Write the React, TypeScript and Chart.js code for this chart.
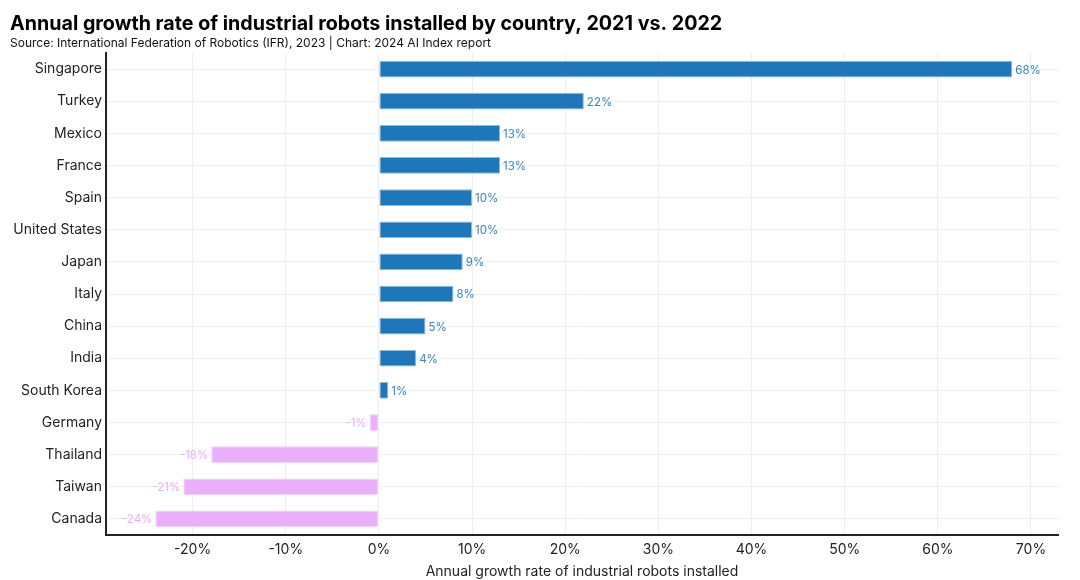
import React, { useEffect, useRef } from "react";
import { Chart, registerables } from "chart.js";

Chart.register(...registerables);

const titleText = "Annual growth rate of industrial robots installed by country, 2021 vs. 2022";
const subtitleText = "Source: International Federation of Robotics (IFR), 2023 | Chart: 2024 AI Index report";
const axisTitle = "Annual growth rate of industrial robots installed";

const countries = [
  "Singapore", "Turkey", "Mexico", "France", "Spain", "United States", "Japan",
  "Italy", "China", "India", "South Korea", "Germany", "Thailand", "Taiwan", "Canada",
];
const growth = [68, 22, 13, 13, 10, 10, 9, 8, 5, 4, 1, -1, -18, -21, -24];
const tickValues = [-20, -10, 0, 10, 20, 30, 40, 50, 60, 70];

const BLUE = "#1f77b9";
const BLUE_EDGE = "#8fbbe0";
const BLUE_TEXT = "#3a86c4";
const PINK = "#eab0fb";
const PINK_EDGE = "#f3d3fc";
const PINK_TEXT = "#e7b1f8";

const FONT = "Inter, 'Noto Sans', sans-serif";

export default function App() {
  const ref = useRef<HTMLCanvasElement | null>(null);

  useEffect(() => {
    document.body.style.margin = "0";
    const canvas = ref.current;
    if (!canvas) return;

    const headerPlugin = {
      id: "header",
      afterDraw(chart: any) {
        const ctx = chart.ctx;
        ctx.save();
        ctx.fillStyle = "#000";
        ctx.textBaseline = "alphabetic";
        ctx.textAlign = "left";
        ctx.font = `bold 19.7px ${FONT}`;
        ctx.fillText(titleText, 10, 30);
        ctx.font = `12px ${FONT}`;
        ctx.fillStyle = "#111";
        ctx.fillText(subtitleText, 10, 47);
        ctx.restore();
      },
    };

    const valueLabels = {
      id: "valueLabels",
      afterDatasetsDraw(chart: any) {
        const ctx = chart.ctx;
        const meta = chart.getDatasetMeta(0);
        ctx.save();
        ctx.font = `11.5px ${FONT}`;
        ctx.textBaseline = "middle";
        meta.data.forEach((bar: any, i: number) => {
          const v = growth[i];
          const label = `${v}%`;
          if (v >= 0) {
            ctx.fillStyle = BLUE_TEXT;
            ctx.textAlign = "left";
            ctx.fillText(label, bar.x + 3, bar.y + 1);
          } else {
            ctx.fillStyle = PINK_TEXT;
            ctx.textAlign = "right";
            ctx.fillText(label, bar.x - 3, bar.y + 1);
          }
        });
        ctx.restore();
      },
    };

    const chart = new Chart(canvas, {
      type: "bar",
      data: {
        labels: countries,
        datasets: [
          {
            data: growth,
            backgroundColor: growth.map((v) => (v >= 0 ? BLUE : PINK)),
            borderColor: growth.map((v) => (v >= 0 ? BLUE_EDGE : PINK_EDGE)),
            borderWidth: 1,
            borderSkipped: false,
            barPercentage: 0.52,
            categoryPercentage: 1,
          },
        ],
      },
      options: {
        indexAxis: "y",
        animation: false,
        responsive: false,
        maintainAspectRatio: false,
        layout: { padding: { top: 53, right: 22, left: 0, bottom: 0 } },
        plugins: {
          legend: { display: false },
          tooltip: { enabled: false },
        },
        scales: {
          x: {
            min: -29.3,
            max: 72.9,
            afterBuildTicks(scale: any) {
              scale.ticks = tickValues.map((v) => ({ value: v }));
            },
            afterFit(scale: any) {
              scale.height = 45;
            },
            grid: { color: "#eeeeee", lineWidth: 1, drawTicks: false },
            border: { display: true, color: "#222", width: 2 },
            ticks: {
              padding: 6,
              color: "#222",
              font: { family: FONT, size: 14 },
              callback: (v: any) => `${v}%`,
            },
            title: {
              display: true,
              text: axisTitle,
              color: "#222",
              font: { family: FONT, size: 14 },
              padding: { top: 0, bottom: 0 },
            },
          },
          y: {
            afterFit(scale: any) {
              scale.width = 106;
            },
            grid: { color: "#eeeeee", lineWidth: 1, drawTicks: false, offset: false },
            border: { display: true, color: "#222", width: 2 },
            ticks: {
              padding: 4,
              color: "#222",
              font: { family: FONT, size: 14 },
            },
          },
        },
      },
      plugins: [headerPlugin, valueLabels],
    } as any);

    return () => chart.destroy();
  }, []);

  return (
    <div style={{ width: 1080, height: 580, background: "#fff" }}>
      <canvas ref={ref} width={1080} height={580} style={{ display: "block" }} />
    </div>
  );
}
